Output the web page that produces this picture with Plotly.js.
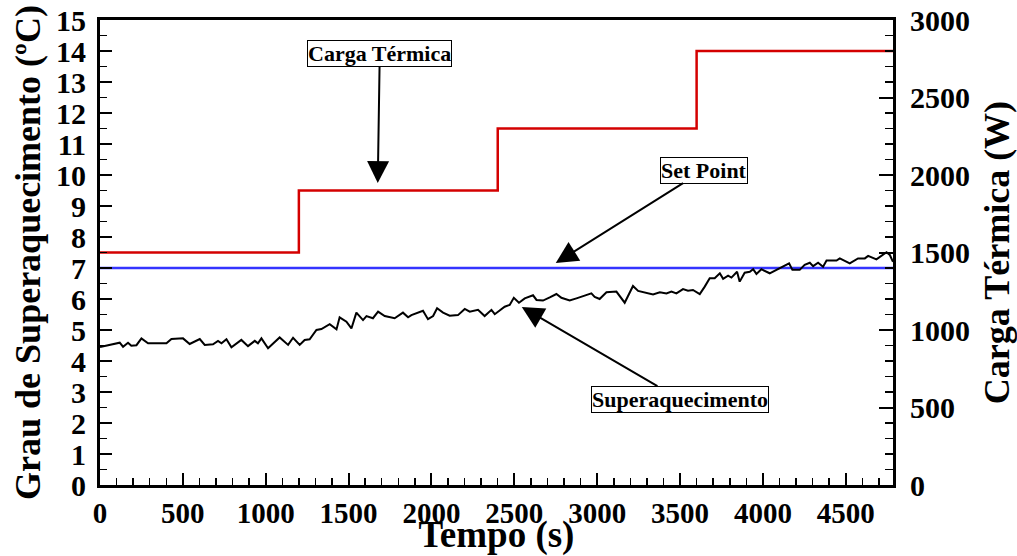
<!DOCTYPE html>
<html>
<head>
<meta charset="utf-8">
<script src="https://cdn.plot.ly/plotly-3.0.1.min.js"></script>
<style>
  html, body { margin: 0; padding: 0; background: #fff; }
  #chart { width: 1017px; height: 556px; }
</style>
</head>
<body>
<div id="chart"></div>
<script>
// Superheating measured over the test (s, °C)
const tempo = [0, 59, 119, 139, 169, 189, 220, 250, 290, 330, 401, 431, 501, 541, 602, 632, 682, 712, 733, 763, 793,
  853, 893, 934, 953, 974, 1014, 1084, 1135, 1165, 1205, 1235, 1265, 1306, 1336, 1386, 1427, 1446, 1487, 1517, 1547,
  1587, 1608, 1647, 1678, 1718, 1778, 1828, 1859, 1879, 1949, 1979, 2010, 2034, 2070, 2110, 2160, 2201, 2231, 2281,
  2321, 2362, 2382, 2442, 2472, 2497, 2528, 2563, 2613, 2634, 2673, 2714, 2754, 2784, 2834, 2875, 2915, 2965, 2985,
  3015, 3056, 3116, 3166, 3216, 3247, 3297, 3337, 3378, 3418, 3448, 3478, 3518, 3548, 3578, 3619, 3649, 3679, 3709,
  3740, 3760, 3790, 3810, 3844, 3860, 3890, 3921, 3941, 3961, 3991, 4041, 4082, 4142, 4158, 4178, 4222, 4252, 4283,
  4303, 4333, 4363, 4384, 4444, 4464, 4524, 4574, 4615, 4635, 4685, 4715, 4746, 4766, 4785];
const superaquecimento = [4.45, 4.52, 4.59, 4.46, 4.59, 4.49, 4.51, 4.73, 4.57, 4.57, 4.57, 4.71, 4.73, 4.55, 4.71, 4.52,
  4.54, 4.65, 4.57, 4.70, 4.44, 4.68, 4.48, 4.65, 4.57, 4.73, 4.41, 4.76, 4.52, 4.75, 4.52, 4.68, 4.70, 5.00, 5.03,
  5.19, 5.02, 5.41, 5.27, 5.05, 5.56, 5.32, 5.45, 5.38, 5.59, 5.45, 5.38, 5.56, 5.41, 5.48, 5.62, 5.35, 5.45, 5.70,
  5.56, 5.46, 5.48, 5.68, 5.59, 5.65, 5.45, 5.65, 5.51, 5.75, 5.81, 6.04, 5.88, 6.02, 6.12, 5.97, 5.95, 6.05, 6.16,
  6.04, 5.95, 6.02, 6.10, 6.18, 6.07, 6.00, 6.22, 6.24, 5.88, 6.42, 6.26, 6.20, 6.15, 6.22, 6.18, 6.24, 6.18, 6.32,
  6.27, 6.29, 6.16, 6.40, 6.67, 6.67, 6.83, 6.65, 6.75, 6.69, 6.88, 6.56, 6.85, 6.88, 6.96, 6.81, 6.96, 6.83, 6.94,
  7.10, 7.15, 6.94, 6.94, 7.10, 7.17, 7.06, 7.17, 7.04, 7.24, 7.24, 7.31, 7.15, 7.31, 7.31, 7.39, 7.28, 7.39, 7.51,
  7.42, 7.20];

// Imposed thermal load steps (s, W)
const tempoCarga = [0, 1200, 1200, 2400, 2400, 3600, 3600, 4785];
const cargaTermica = [1500, 1500, 1900, 1900, 2300, 2300, 2800, 2800];

// Superheating set point (°C)
const tempoSetPoint = [0, 4785];
const setPoint = [7, 7];

const serif = 'Liberation Serif, Times New Roman, serif';

const traces = [
  { x: tempoCarga, y: cargaTermica, yaxis: 'y2', mode: 'lines', line: { color: '#d40000', width: 2.5 }, name: 'Carga Térmica' },
  { x: tempoSetPoint, y: setPoint, mode: 'lines', line: { color: '#3434ff', width: 2.5 }, name: 'Set Point' },
  { x: tempo, y: superaquecimento, mode: 'lines', line: { color: '#000', width: 2 }, name: 'Superaquecimento' }
];

const tickFont = size => ({ family: serif, size, color: '#000', weight: 'bold' });
const titleFont = size => ({ family: serif, size, color: '#000', weight: 'bold' });
const boxFont = { family: serif, size: 22, color: '#000', weight: 'bold' };

const label = (text, x, y, ax, ay) => ({
  text, x, y, ax, ay, xref: 'x', yref: 'y',
  showarrow: true, arrowhead: 2, arrowsize: 2.2, arrowwidth: 2, arrowcolor: '#000',
  bgcolor: '#fff', bordercolor: '#000', borderwidth: 1, borderpad: 0, font: boxFont
});

const layout = {
  width: 1017, height: 556,
  margin: { l: 100, r: 124, t: 20, b: 71 },
  paper_bgcolor: '#fff', plot_bgcolor: '#fff',
  showlegend: false,
  xaxis: {
    range: [0, 4785], tickvals: [0, 500, 1000, 1500, 2000, 2500, 3000, 3500, 4000, 4500],
    ticks: 'inside', ticklen: 12, tickwidth: 2, tickcolor: '#000',
    minor: { dtick: 100, ticks: 'inside', ticklen: 7, tickwidth: 1.5, tickcolor: '#000' },
    showgrid: false, zeroline: false, showline: true, linecolor: '#000', linewidth: 3, mirror: true,
    tickfont: tickFont(29), ticklabelstandoff: 0,
    title: { text: 'Tempo (s)', font: titleFont(37) }
  },
  yaxis: {
    range: [0, 15], dtick: 1, automargin: 'left',
    ticks: 'inside', ticklen: 12, tickwidth: 2, tickcolor: '#000',
    minor: { dtick: 0.5, ticks: 'inside', ticklen: 7, tickwidth: 1.5, tickcolor: '#000' },
    showgrid: false, zeroline: false, showline: true, linecolor: '#000', linewidth: 3,
    tickfont: tickFont(30), ticklabelstandoff: 5,
    title: { text: 'Grau de Superaquecimento (ºC)', font: titleFont(36), standoff: 5 }
  },
  yaxis2: {
    overlaying: 'y', side: 'right', range: [0, 3000], dtick: 500, automargin: 'right',
    ticks: 'inside', ticklen: 14, tickwidth: 2, tickcolor: '#000',
    minor: { dtick: 100, ticks: 'inside', ticklen: 8, tickwidth: 1.5, tickcolor: '#000' },
    showgrid: false, zeroline: false, showline: true, linecolor: '#000', linewidth: 3,
    tickfont: tickFont(30), ticklabelstandoff: 8,
    title: { text: 'Carga Térmica (W)', font: titleFont(36), standoff: 18 }
  },
  annotations: [
    label('Carga Térmica', 1676, 9.74, 2, -130),
    label('Set Point', 2750, 7.16, 148, -93),
    label('Superaquecimento', 2545, 5.74, 158, 92)
  ]
};

Plotly.newPlot('chart', traces, layout, { displayModeBar: false, staticPlot: true });
</script>
</body>
</html>
